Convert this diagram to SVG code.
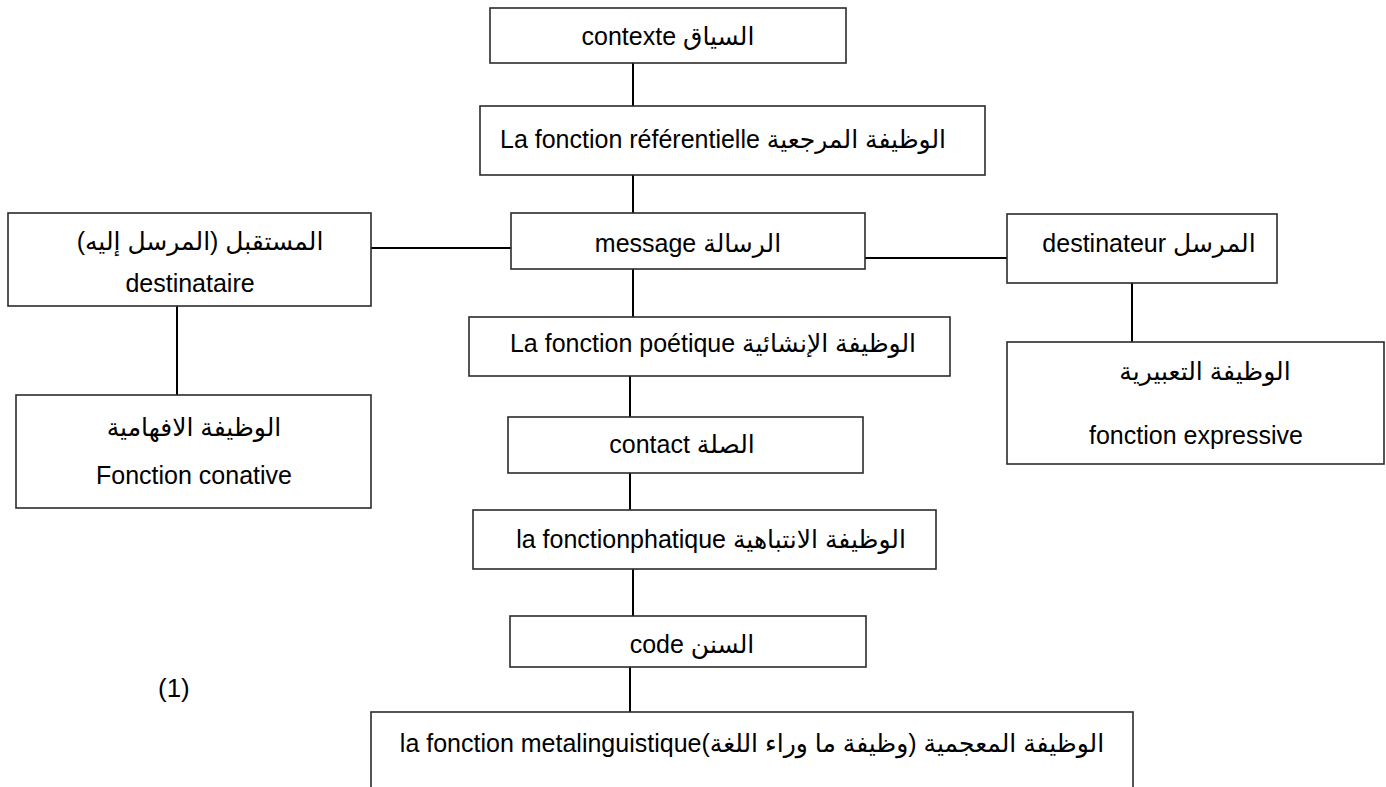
<svg xmlns="http://www.w3.org/2000/svg" width="1386" height="787" viewBox="0 0 1386 787">
<style>
.box{fill:#fff;stroke:#2b2b2b;stroke-width:1.6}
.conn{stroke:#000;stroke-width:2;fill:none}
.t{font-family:"Liberation Sans","DejaVu Sans",sans-serif;font-size:25px;fill:#000;text-anchor:middle;direction:rtl;unicode-bidi:embed}
.n{font-family:"Liberation Sans",Arial,sans-serif;font-size:26px;fill:#000}
</style>
<rect width="1386" height="787" fill="#fff"/>
<g id="connectors">
<line class="conn" x1="633" y1="63" x2="633" y2="106"/>
<line class="conn" x1="633" y1="175" x2="633" y2="213"/>
<line class="conn" x1="371" y1="248" x2="511" y2="248"/>
<line class="conn" x1="865" y1="258" x2="1007" y2="258"/>
<line class="conn" x1="177" y1="306" x2="177" y2="395"/>
<line class="conn" x1="1132" y1="283" x2="1132" y2="342"/>
<line class="conn" x1="633" y1="269" x2="633" y2="317"/>
<line class="conn" x1="630" y1="376" x2="630" y2="417"/>
<line class="conn" x1="630" y1="473" x2="630" y2="510"/>
<line class="conn" x1="633" y1="569" x2="633" y2="616"/>
<line class="conn" x1="630" y1="667" x2="630" y2="712"/>
</g>
<g id="contexte">
<rect class="box" x="490" y="8" width="356" height="55"/>
<text class="t" x="668" y="45" direction="rtl">السياق contexte</text>
</g>
<g id="referentielle">
<rect class="box" x="480" y="106" width="505" height="69"/>
<text class="t" x="723" y="148" direction="rtl">الوظيفة المرجعية La fonction référentielle</text>
</g>
<g id="message">
<rect class="box" x="511" y="213" width="354" height="56"/>
<text class="t" x="688" y="252" direction="rtl">الرسالة message</text>
</g>
<g id="destinataire">
<rect class="box" x="8" y="213" width="363" height="93"/>
<text class="t" x="200" y="250" direction="rtl">المستقبل (المرسل إليه)</text>
<text class="t" x="190" y="292" direction="rtl">destinataire</text>
</g>
<g id="conative">
<rect class="box" x="16" y="395" width="355" height="113"/>
<text class="t" x="194" y="436" direction="rtl">الوظيفة الافهامية</text>
<text class="t" x="194" y="484" direction="rtl">Fonction conative</text>
</g>
<g id="destinateur">
<rect class="box" x="1007" y="214" width="270" height="69"/>
<text class="t" x="1149" y="252" direction="rtl">المرسل destinateur</text>
</g>
<g id="expressive">
<rect class="box" x="1007" y="342" width="377" height="122"/>
<text class="t" x="1205" y="380" direction="rtl">الوظيفة التعبيرية</text>
<text class="t" x="1196" y="444" direction="rtl">fonction expressive</text>
</g>
<g id="poetique">
<rect class="box" x="469" y="317" width="481" height="59"/>
<text class="t" x="713" y="352" direction="rtl">الوظيفة الإنشائية La fonction poétique</text>
</g>
<g id="contact">
<rect class="box" x="508" y="417" width="355" height="56"/>
<text class="t" x="682" y="453" direction="rtl">الصلة contact</text>
</g>
<g id="phatique">
<rect class="box" x="473" y="510" width="463" height="59"/>
<text class="t" x="711" y="548" direction="rtl">الوظيفة الانتباهية la fonctionphatique</text>
</g>
<g id="code">
<rect class="box" x="510" y="616" width="356" height="51"/>
<text class="t" x="692" y="653" direction="rtl">السنن code</text>
</g>
<g id="metalinguistique">
<rect class="box" x="371" y="712" width="762" height="90"/>
<text class="t" x="752" y="752" direction="rtl">الوظيفة المعجمية (وظيفة ما وراء اللغة)la fonction metalinguistique</text>
</g>
<text class="n" x="158" y="697">(1)</text>
</svg>
